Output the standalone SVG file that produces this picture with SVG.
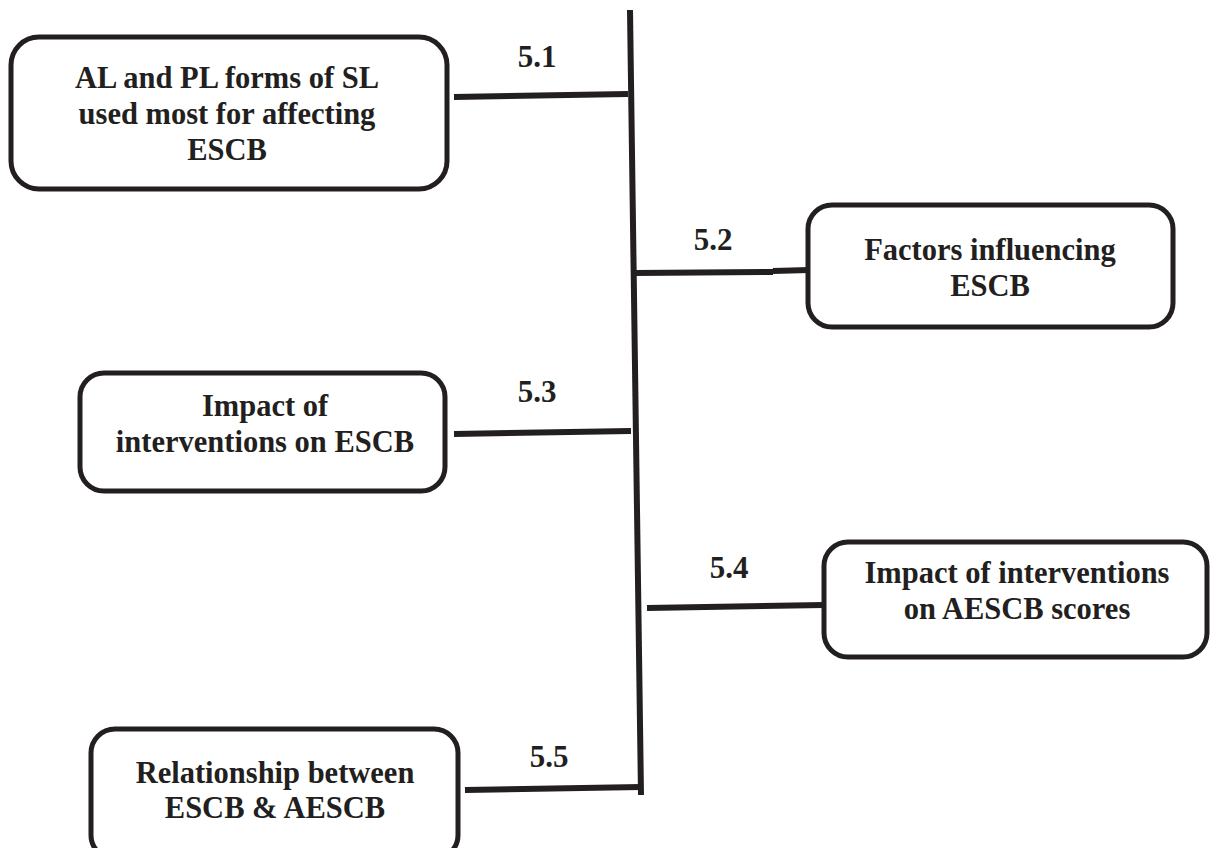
<svg xmlns="http://www.w3.org/2000/svg" width="1211" height="848" viewBox="0 0 1211 848">
<style>
.box{fill:#fff;stroke:#231f20;stroke-width:5}
.t{font-family:"Liberation Serif","Times New Roman",serif;font-weight:bold;font-size:30.5px;fill:#231f20;text-anchor:middle}
.lbl{font-family:"Liberation Serif","Times New Roman",serif;font-weight:bold;font-size:31px;fill:#231f20;text-anchor:middle}
.c{stroke:#231f20;stroke-width:6;fill:none}
</style>
<rect width="1211" height="848" fill="#fff"/>
<g id="connectors">
<path class="c" d="M630 10 L641 795" stroke-width="5"/>
<path class="c" d="M454 97 L628 94"/>
<path class="c" d="M635 273 L773 272 M773 271 L809 270"/>
<path class="c" d="M454 434 L631 431"/>
<path class="c" d="M647 608 L824 605"/>
<path class="c" d="M465 790 L641 787"/>
<text class="lbl" x="537" y="67">5.1</text>
<text class="lbl" x="713" y="250">5.2</text>
<text class="lbl" x="537" y="402">5.3</text>
<text class="lbl" x="729" y="578">5.4</text>
<text class="lbl" x="549" y="767">5.5</text>
</g>
<g id="n1">
<rect class="box" x="11" y="37" width="436" height="152" rx="28"/>
<text class="t" x="227" y="88">AL and PL forms of SL</text>
<text class="t" x="227" y="124">used most for affecting</text>
<text class="t" x="227" y="160">ESCB</text>
</g>
<g id="n2">
<rect class="box" x="808" y="205" width="365" height="122" rx="24"/>
<text class="t" x="990" y="260">Factors influencing</text>
<text class="t" x="990" y="296">ESCB</text>
</g>
<g id="n3">
<rect class="box" x="80" y="373" width="365" height="118" rx="24"/>
<text class="t" x="265" y="416">Impact of</text>
<text class="t" x="265" y="452">interventions on ESCB</text>
</g>
<g id="n4">
<rect class="box" x="824" y="542" width="383" height="115" rx="24"/>
<text class="t" x="1017" y="583">Impact of interventions</text>
<text class="t" x="1017" y="619">on AESCB scores</text>
</g>
<g id="n5">
<rect class="box" x="91" y="729" width="367" height="130" rx="24"/>
<text class="t" x="275" y="783">Relationship between</text>
<text class="t" x="275" y="818">ESCB &amp; AESCB</text>
</g>
</svg>
